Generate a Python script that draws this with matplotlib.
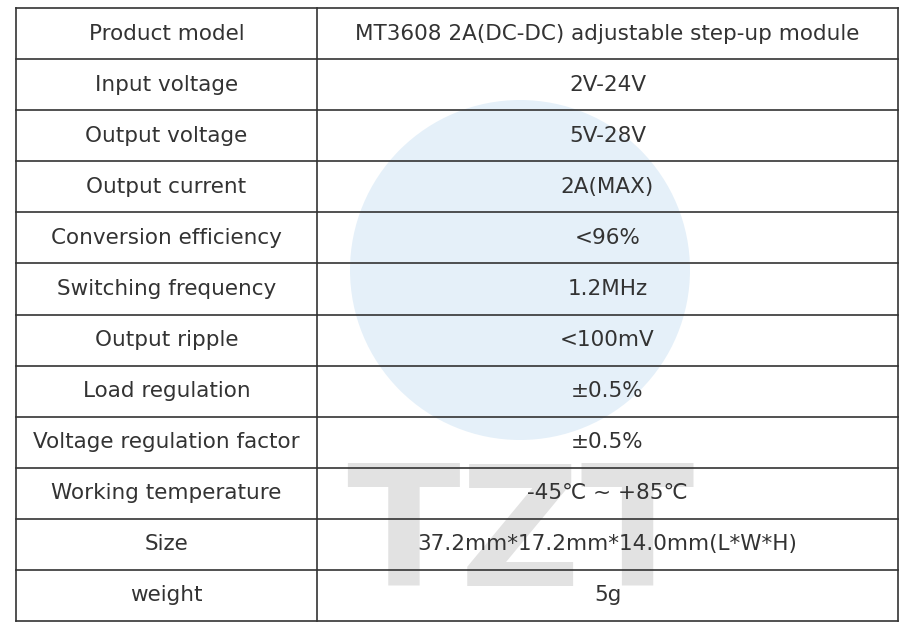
import matplotlib
matplotlib.use('Agg')
from matplotlib import pyplot as plt

params = ['Product model', 'Input voltage', 'Output voltage', 'Output current',
          'Conversion efficiency', 'Switching frequency', 'Output ripple',
          'Load regulation', 'Voltage regulation factor', 'Working temperature',
          'Size', 'weight']
values = ['MT3608 2A(DC-DC) adjustable step-up module', '2V-24V', '5V-28V',
          '2A(MAX)', '<96%', '1.2MHz', '<100mV', '±0.5%', '±0.5%',
          '-45℃ ~ +85℃', '37.2mm*17.2mm*14.0mm(L*W*H)', '5g']

W, H = 906, 627
LEFT, MID, RIGHT = 16, 317, 898
TOP, BOTTOM = 8, 621

fig = plt.figure(figsize=(W / 100, H / 100), dpi=100)
ax = fig.add_axes([0, 0, 1, 1])
ax.set_xlim(0, W)
ax.set_ylim(H, 0)
ax.axis('off')

# watermark
ax.text(520, 540, 'TZT', fontsize=120, color='#e2e2e2', ha='center', va='center',
        fontweight='bold', zorder=0)
ax.add_patch(plt.Circle((520, 270), 170, color='#b5d5ee', alpha=0.35, zorder=0, lw=0))

n = len(params)
row_h = (BOTTOM - TOP) / n
for i in range(n + 1):
  y = TOP + i * row_h
  ax.plot([LEFT, RIGHT], [y, y], color='#333333', linewidth=1.2)
for x in [LEFT, MID, RIGHT]:
  ax.plot([x, x], [TOP, BOTTOM], color='#333333', linewidth=1.2)

for i, (p, v) in enumerate(zip(params, values)):
  yc = TOP + (i + 0.5) * row_h
  ax.text((LEFT + MID) / 2, yc, p, fontsize=15.5, ha='center', va='center',
          color='#333333', family=['DejaVu Sans'])
  ax.text((MID + RIGHT) / 2, yc, v, fontsize=15.5, ha='center', va='center',
          color='#333333', family=['DejaVu Sans'])

fig.savefig('out.png', dpi=100)
